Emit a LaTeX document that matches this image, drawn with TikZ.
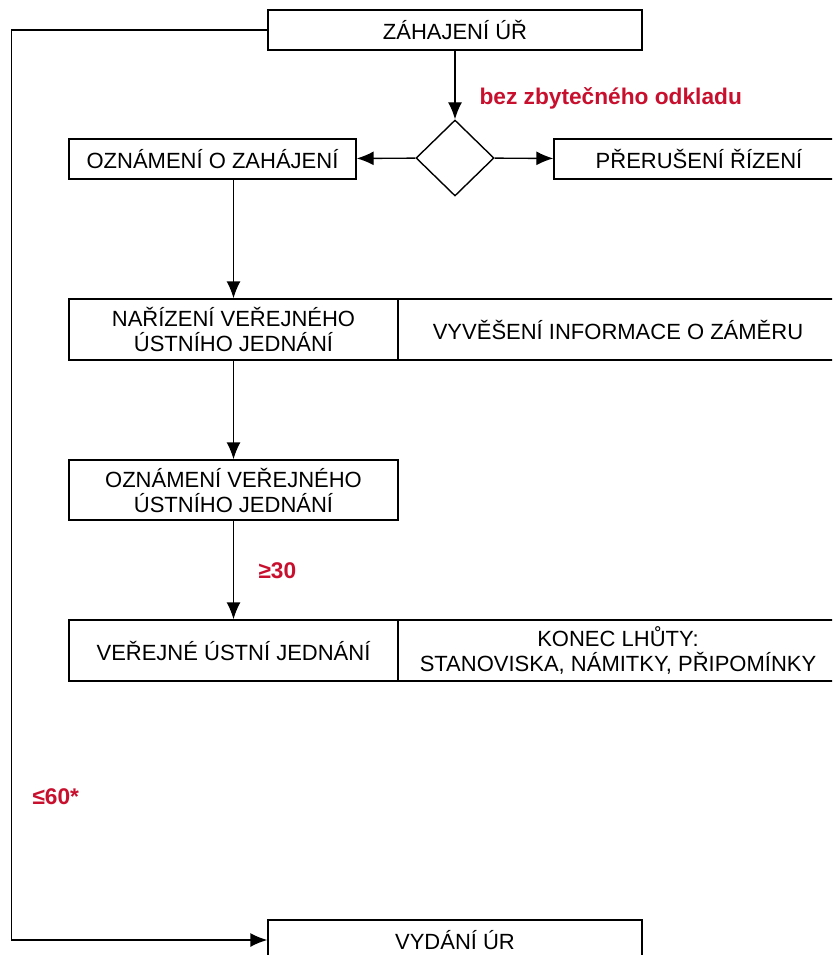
\documentclass[tikz,border=0pt]{standalone}
\usepackage{fontspec}
\setmainfont{Liberation Sans}
\usetikzlibrary{arrows.meta,shapes.geometric}
\definecolor{lhuta}{RGB}{200,16,46}
\tikzset{
  krok/.style={draw, rectangle, line width=1.4pt, inner sep=0pt, align=center,
    minimum height=40pt, font=\fontsize{22}{25}\selectfont},
  rozhod/.style={draw, diamond, line width=1.4pt, inner sep=0pt,
    minimum width=78pt, minimum height=76pt},
  sipka/.style={line width=1.4pt, -{Latex[length=17pt,width=14pt]}},
  popis/.style={anchor=west, text=lhuta, font=\fontsize{22.7}{25}\selectfont\bfseries}
}
\begin{document}
\begin{tikzpicture}[x=1pt,y=-1pt]
	\useasboundingbox (0,0) rectangle (832,955);
	\clip (0,0) rectangle (832,955);
	% kroky
	\node[krok, minimum width=374pt] (zah) at (455,30) {ZÁHAJENÍ ÚŘ};
	\node[rozhod] (dia) at (455,158) {};
	\node[krok, minimum width=287pt] (ozn) at (212.5,159) {OZNÁMENÍ O ZAHÁJENÍ};
	\node[krok, minimum width=290pt] (prer) at (699,159) {PŘERUŠENÍ ŘÍZENÍ};
	\node[krok, minimum width=329pt, minimum height=61pt] (nar) at (233.5,329.5) {NAŘÍZENÍ VEŘEJNÉHO\\ÚSTNÍHO JEDNÁNÍ};
	\node[krok, minimum width=440pt, minimum height=61pt] (vyv) at (618,329.5) {VYVĚŠENÍ INFORMACE O ZÁMĚRU};
	\node[krok, minimum width=329pt, minimum height=60pt] (oznv) at (233.5,490) {OZNÁMENÍ VEŘEJNÉHO\\ÚSTNÍHO JEDNÁNÍ};
	\node[krok, minimum width=329pt, minimum height=61pt] (ver) at (233.5,650.5) {VEŘEJNÉ ÚSTNÍ JEDNÁNÍ};
	\node[krok, minimum width=440pt, minimum height=61pt] (kon) at (618,650.5) {KONEC LHŮTY:\\STANOVISKA, NÁMITKY, PŘIPOMÍNKY};
	\node[krok, minimum width=374pt] (vyd) at (455,940) {VYDÁNÍ ÚR};
	% lhuty
	\node[popis] (odklad) at (476,98) {bez zbytečného odkladu};
	\node[popis] (min30) at (255,571) {≥30};
	\node[popis] (max60) at (29,797) {≤60*};
	% spoje
	\draw[sipka] (zah) -- (dia);
	\draw[sipka] (dia) -- (ozn);
	\draw[sipka] (dia) -- (prer);
	\draw[sipka] (ozn.south -| nar.north) -- (nar.north);
	\draw[sipka] (nar) -- (oznv);
	\draw[sipka] (oznv) -- (ver);
	\draw[sipka] (zah.west) -- ++(-256,0) |- (vyd.west);
\end{tikzpicture}
\end{document}
